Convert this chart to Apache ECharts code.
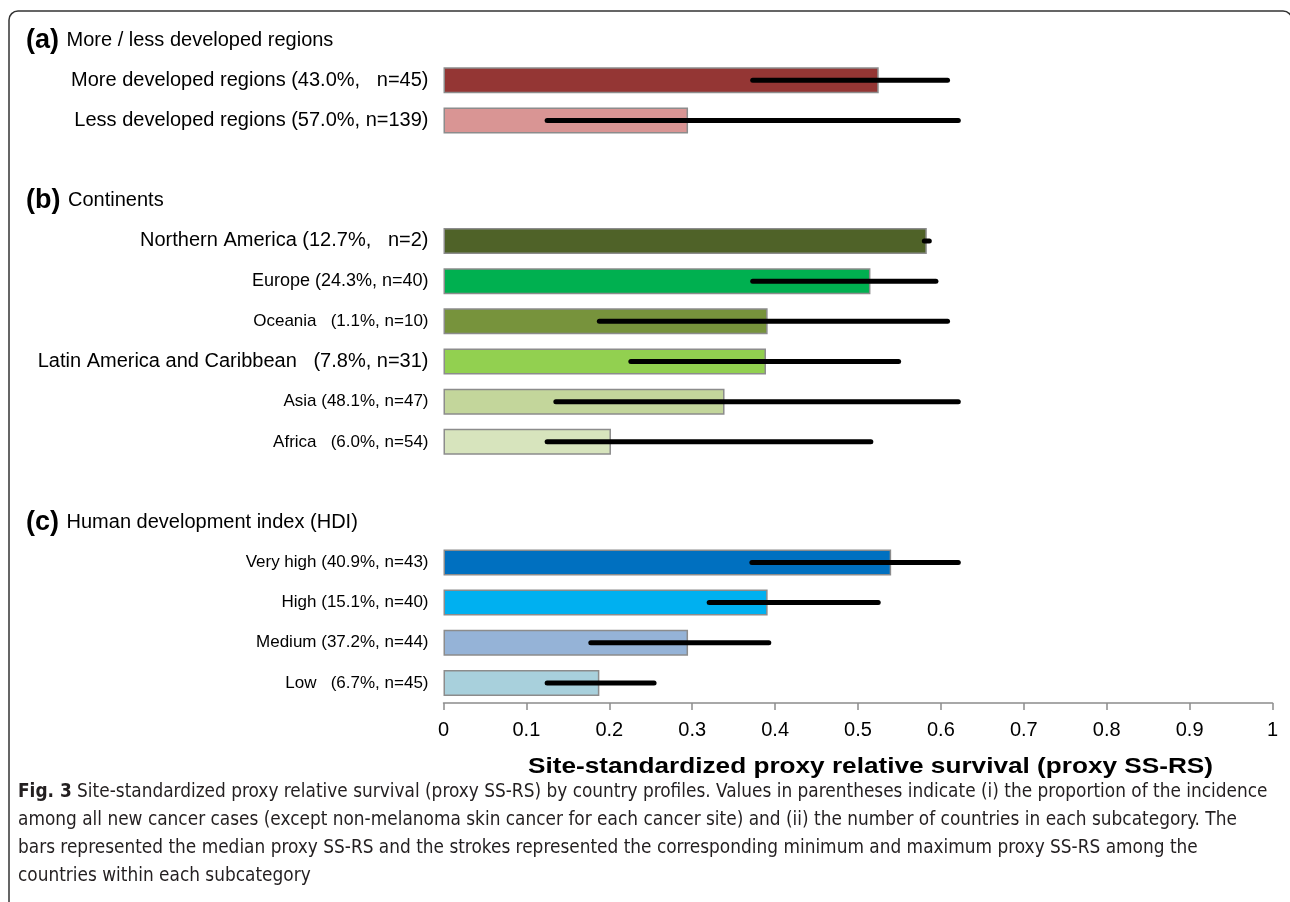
<!DOCTYPE html>
<html>
<head>
<meta charset="utf-8">
<script src="https://cdn.jsdelivr.net/npm/echarts@6/dist/echarts.min.js"></script>
<style>
html, body { margin: 0; padding: 0; background: #fff; }
#main { width: 1290px; height: 902px; }
</style>
</head>
<body>
<div id="main"></div>
<script>
// (a) more / less developed regions
var labelsA = ['More developed regions (43.0%,   n=45)', 'Less developed regions (57.0%, n=139)'];
var medianA = [0.525, 0.295];
var minA = [0.373, 0.125];
var maxA = [0.608, 0.621];

// (b) continents
var labelsB = ['Northern America (12.7%,   n=2)', 'Europe (24.3%, n=40)', 'Oceania   (1.1%, n=10)',
	'Latin America and Caribbean   (7.8%, n=31)', 'Asia (48.1%, n=47)', 'Africa   (6.0%, n=54)'];
var medianB = [0.583, 0.515, 0.391, 0.389, 0.339, 0.202];
var minB = [0.580, 0.373, 0.188, 0.226, 0.1355, 0.125];
var maxB = [0.586, 0.594, 0.608, 0.549, 0.621, 0.5155];

// (c) HDI
var labelsC = ['Very high (40.9%, n=43)', 'High (15.1%, n=40)', 'Medium (37.2%, n=44)', 'Low   (6.7%, n=45)'];
var medianC = [0.540, 0.391, 0.295, 0.188];
var minC = [0.372, 0.3205, 0.1777, 0.125];
var maxC = [0.621, 0.5244, 0.3924, 0.254];

var headers = [
	['(a)', 'More / less developed regions'],
	['(b)', 'Continents'],
	['(c)', 'Human development index (HDI)']
];
var xTicks = [0, 1, 0.1]; // min, max, step
var xTitle = 'Site-standardized proxy relative survival (proxy SS-RS)';
var captionLines = [
	'Site-standardized proxy relative survival (proxy SS-RS) by country profiles. Values in parentheses indicate (i) the proportion of the incidence',
	'among all new cancer cases (except non-melanoma skin cancer for each cancer site) and (ii) the number of countries in each subcategory. The',
	'bars represented the median proxy SS-RS and the strokes represented the corresponding minimum and maximum proxy SS-RS among the',
	'countries within each subcategory'
];

var colorsA = ['#943634', '#d99594'];
var colorsB = ['#4f6228', '#00b050', '#77933c', '#92d050', '#c3d69b', '#d7e4bd'];
var colorsC = ['#0070c0', '#00b0f0', '#95b3d7', '#a8d0dc'];
// label sizes differ between rows in the source figure
var sizesA = [20, 20];
var sizesB = [20, 18, 17, 20, 17, 17];
var sizesC = [17, 17, 17, 17];

// build one category axis: header slot, rows, blank slot ...
var categories = [];
var barData = [];
var errData = [];
function addGroup(key, labels, med, mn, mx, cols, sizes, gapAfter) {
	categories.push('#' + key);
	barData.push('-');
	for (var i = 0; i < labels.length; i++) {
		categories.push({ value: labels[i], textStyle: { fontSize: sizes[i] } });
		barData.push({ value: med[i], itemStyle: { color: cols[i] } });
		errData.push([mn[i], mx[i], categories.length - 1]);
	}
	if (gapAfter) {
		categories.push('#gap' + key);
		barData.push('-');
	}
}
addGroup('a', labelsA, medianA, minA, maxA, colorsA, sizesA, true);
addGroup('b', labelsB, medianB, minB, maxB, colorsB, sizesB, true);
addGroup('c', labelsC, medianC, minC, maxC, colorsC, sizesC, false);

var chart = echarts.init(document.getElementById('main'));
var FONT = '"Liberation Sans", Arial, sans-serif';

chart.setOption({
	backgroundColor: '#ffffff',
	animation: false,
	grid: { left: 443.5, right: 17.5, top: 20, bottom: 199, containLabel: false },
	xAxis: {
		type: 'value',
		min: xTicks[0],
		max: xTicks[1],
		interval: xTicks[2],
		axisLine: { show: true, lineStyle: { color: '#8c8c8c', width: 1.5 } },
		axisTick: { show: true, length: 7, lineStyle: { color: '#8c8c8c', width: 1.5 } },
		splitLine: { show: false },
		axisLabel: {
			fontFamily: FONT, fontSize: 20, color: '#000', margin: 17,
			formatter: function (v) { return String(+v.toFixed(1)); }
		}
	},
	yAxis: {
		type: 'category',
		inverse: true,
		data: categories,
		axisLine: { show: false },
		axisTick: { show: false },
		axisLabel: {
			fontFamily: FONT, fontSize: 17, color: '#000', margin: 15,
			formatter: function (v) { return v.charAt(0) == '#' ? '' : v; }
		}
	},
	series: [
		{
			type: 'bar',
			data: barData,
			barWidth: 26,
			itemStyle: { borderColor: '#8c8c8c', borderWidth: 1.5 }
		},
		{
			type: 'custom',
			data: errData,
			encode: { x: [0, 1], y: 2 },
			z: 5,
			renderItem: function (params, api) {
				var p1 = api.coord([api.value(0), api.value(2)]);
				var p2 = api.coord([api.value(1), api.value(2)]);
				return {
					type: 'line',
					shape: { x1: p1[0], y1: p1[1], x2: p2[0], y2: p2[1] },
					style: { stroke: '#000', lineWidth: 5, lineCap: 'round' }
				};
			}
		}
	]
});

// headers, axis title and caption as free text
var ctx = document.createElement('canvas').getContext('2d');
var graphics = [];
graphics.push({
	type: 'rect', silent: true,
	shape: { x: 9, y: 11, width: 1283, height: 905, r: [9, 9, 0, 0] },
	style: { fill: null, stroke: '#333', lineWidth: 1.5 }
});
var keys = ['a', 'b', 'c'];
for (var h = 0; h < headers.length; h++) {
	var hy = chart.convertToPixel({ yAxisIndex: 0 }, '#' + keys[h]);
	graphics.push({
		type: 'text', x: 26, y: hy,
		style: {
			text: '{b|' + headers[h][0] + '}{n| ' + headers[h][1] + '}',
			verticalAlign: 'middle',
			fill: '#000',
			rich: {
				b: { fontFamily: FONT, fontSize: 27, fontWeight: 'bold', fill: '#000', verticalAlign: 'middle' },
				n: { fontFamily: FONT, fontSize: 20, fill: '#000', verticalAlign: 'middle', padding: [0, 0, 0, 2] }
			}
		}
	});
}

// axis title, stretched like the source figure
ctx.font = 'bold 22px ' + FONT;
var tScale = 685 / ctx.measureText(xTitle).width;
graphics.push({
	type: 'text', x: 870.5, y: 767, scaleX: tScale, originX: 0, originY: 0,
	style: {
		text: xTitle, align: 'center', verticalAlign: 'middle',
		fontFamily: FONT, fontSize: 22, fontWeight: 'bold', fill: '#000'
	}
});

var CAP_FONT = '"Liberation Sans Narrow", "DejaVu Sans Condensed", sans-serif';
var capSize = 19;
ctx.font = 'bold ' + capSize + 'px ' + CAP_FONT;
var w1 = ctx.measureText('Fig. 3 ').width;
ctx.font = capSize + 'px ' + CAP_FONT;
w1 += ctx.measureText(captionLines[0]).width;
var capScale = 1250 / w1;
for (var c = 0; c < captionLines.length; c++) {
	var cy = 792 + c * 28;
	graphics.push({
		type: 'text', x: 18, y: cy, scaleX: capScale, originX: 0, originY: 0,
		style: {
			text: (c == 0 ? '{b|Fig. 3} ' : '') + captionLines[c],
			verticalAlign: 'middle',
			fontFamily: CAP_FONT, fontSize: capSize, fill: '#231f20',
			rich: { b: { fontFamily: CAP_FONT, fontSize: capSize, fontWeight: 'bold', fill: '#231f20' } }
		}
	});
}
chart.setOption({ graphic: graphics });
</script>
</body>
</html>
